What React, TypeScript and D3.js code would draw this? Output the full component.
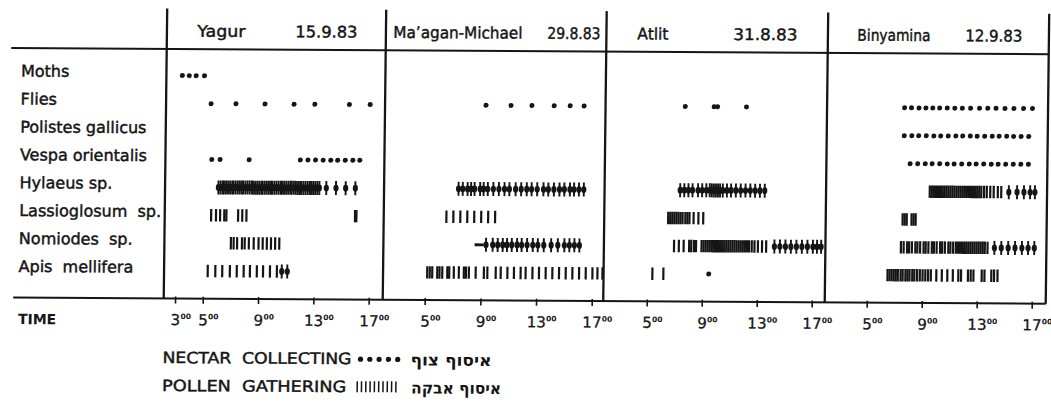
import React from 'react';
import * as d3 from 'd3';

// ---------- data ----------
const sites = ['Yagur', 'Ma\u2019agan-Michael', 'Atlit', 'Binyamina'];
const dates = ['15.9.83', '29.8.83', '31.8.83', '12.9.83'];
const taxa = [
  'Moths',
  'Flies',
  'Polistes gallicus',
  'Vespa orientalis',
  'Hylaeus sp.',
  'Lassioglosum  sp.',
  'Nomiodes  sp.',
  'Apis  mellifera',
];
const panelHourTicks = [
  [3, 5, 9, 13, 17],
  [5, 9, 13, 17],
  [5, 9, 13, 17],
  [5, 9, 13, 17],
];

// N = nectar collecting, P = pollen gathering, B = both, D = dash (range)
type Kind = 'N' | 'P' | 'B' | 'D';
type Row = [string, Kind, number[]];

const yagurMarks: Row[] = [
  ['Moths', 'N', [3.3, 3.8, 4.3, 4.9]],
  ['Flies', 'N', [5.4, 7.2, 9.3, 11.4, 12.9, 15.4, 16.9]],
  ['Vespa orientalis', 'N', [5.5, 6.1, 8.2, 11.9, 12.45, 13.0, 13.55, 14.1, 14.6, 15.15, 15.7, 16.2]],
  ['Hylaeus sp.', 'B', [6.0, 6.15, 6.3, 6.4, 6.55, 6.7, 6.85, 7.0, 7.1, 7.25, 7.4, 7.55, 7.7, 7.8, 7.95, 8.1, 8.25, 8.4, 8.5, 8.65, 8.8, 8.95, 9.1, 9.2, 9.35, 9.5, 9.65, 9.8, 9.9, 10.05, 10.2, 10.35, 10.5, 10.6, 10.75, 10.9, 11.05, 11.2, 11.3, 11.45, 11.6, 11.75, 11.9, 12.0, 12.15, 12.3, 12.45, 12.6, 12.7, 12.85, 13.0, 13.15, 13.3, 13.8, 14.5, 15.2, 15.9]],
  ['Lassioglosum  sp.', 'P', [5.5, 5.85, 6.15, 6.45, 6.6, 7.45, 7.75, 8.05, 15.9, 16.0]],
  ['Nomiodes  sp.', 'P', [6.95, 7.15, 7.4, 7.75, 7.95, 8.25, 8.6, 8.95, 9.25, 9.55, 9.85, 10.15, 10.45]],
  ['Apis  mellifera', 'P', [5.3, 5.85, 6.35, 6.9, 7.4, 7.9, 8.35, 8.85, 9.3, 9.8, 10.3]],
  ['Apis  mellifera', 'B', [10.65, 11.05]],
];

const maaganMarks: Row[] = [
  ['Flies', 'N', [9.2, 11.0, 12.5, 14.1, 15.25, 16.25]],
  ['Hylaeus sp.', 'B', [7.3, 7.6, 7.95, 8.2, 8.45, 8.85, 9.1, 9.4, 9.8, 10.2, 10.6, 10.95, 11.4, 11.8, 12.2, 12.55, 12.95, 13.4, 13.75, 14.15, 14.55, 14.9, 15.3, 15.6, 15.95, 16.3]],
  ['Lassioglosum  sp.', 'P', [6.45, 6.95, 7.45, 7.95, 8.45, 8.95, 9.45, 9.95]],
  ['Nomiodes  sp.', 'D', [8.5, 9.15]],
  ['Nomiodes  sp.', 'B', [9.32, 9.8, 10.16, 10.52, 10.83, 11.17, 11.55, 11.88, 12.27, 12.68, 13.04, 13.47, 14.0, 14.48, 14.95, 15.31, 15.67, 16.03]],
  ['Apis  mellifera', 'P', [5.12, 5.3, 5.48, 5.84, 6.0, 6.2, 6.56, 6.7, 7.03, 7.39, 7.75, 7.9, 8.11, 8.6, 9.19, 9.44, 10.04, 10.4, 10.88, 11.35, 11.83, 12.19, 12.68, 13.15, 13.63, 14.11, 14.59, 15.07, 15.55, 16.03, 16.51, 16.99, 17.35, 17.71]],
];

const atlitMarks: Row[] = [
  ['Flies', 'N', [7.6, 9.7, 9.95, 12.05]],
  ['Hylaeus sp.', 'B', [7.3, 7.6, 7.9, 8.2, 8.6, 8.9, 9.2, 9.45, 9.6, 9.75, 9.9, 10.05, 10.2, 10.4, 10.7, 11.0, 11.35, 11.7, 12.05, 12.4, 12.75, 13.1, 13.45]],
  ['Lassioglosum  sp.', 'P', [6.45, 6.6, 6.75, 6.9, 7.05, 7.2, 7.35, 7.5, 7.7, 7.85, 8.0, 8.3, 8.65, 9.0]],
  ['Nomiodes  sp.', 'P', [6.9, 7.25, 7.6, 8.0, 8.15, 8.35, 8.5, 8.9, 9.05, 9.2, 9.35, 9.5, 9.65, 9.8, 9.95, 10.1, 10.25, 10.4, 10.55, 10.7, 10.85, 11.0, 11.15, 11.3, 11.45, 11.6, 11.75, 11.9, 12.05, 12.2, 12.35, 12.55, 12.75, 13.0, 13.3, 13.6]],
  ['Nomiodes  sp.', 'B', [14.2, 14.6, 15.0, 15.4, 15.8, 16.2, 16.6, 17.0, 17.3, 17.6]],
  ['Apis  mellifera', 'P', [5.35, 6.15]],
  ['Apis  mellifera', 'N', [9.45]],
];

const binyaminaMarks: Row[] = [
  ['Flies', 'N', [7.55, 8.05, 8.6, 9.1, 9.6, 10.1, 10.65, 11.2, 11.75, 12.35, 13.0, 13.6, 14.2, 14.85, 15.5, 16.2, 16.85]],
  ['Polistes gallicus', 'N', [7.55, 8.1, 8.6, 9.15, 9.7, 10.2, 10.75, 11.3, 11.8, 12.35, 12.85, 13.4, 13.95, 14.45, 15.0, 15.5, 16.05, 16.6]],
  ['Vespa orientalis', 'N', [8.0, 8.55, 9.1, 9.6, 10.15, 10.7, 11.2, 11.75, 12.3, 12.8, 13.35, 13.9, 14.4, 14.95, 15.5, 16.05, 16.6]],
  ['Hylaeus sp.', 'P', [9.45, 9.6, 9.75, 9.9, 10.05, 10.2, 10.35, 10.5, 10.65, 10.8, 10.95, 11.1, 11.25, 11.4, 11.55, 11.7, 11.85, 12.0, 12.15, 12.3, 12.45, 12.6, 12.75, 12.9, 13.05, 13.2, 13.4, 13.6, 13.85, 14.1, 14.4, 14.65]],
  ['Hylaeus sp.', 'B', [15.2, 15.8, 16.3, 16.75, 17.1]],
  ['Lassioglosum  sp.', 'P', [7.5, 7.65, 7.8, 8.15, 8.3, 8.45]],
  ['Nomiodes  sp.', 'P', [7.4, 7.6, 7.85, 8.0, 8.2, 8.45, 8.6, 8.8, 9.05, 9.2, 9.4, 9.65, 9.8, 10.0, 10.25, 10.4, 10.6, 10.85, 11.0, 11.2, 11.4, 11.55, 11.7, 11.85, 12.0, 12.15, 12.3, 12.45, 12.6, 12.75, 12.9, 13.05, 13.2, 13.35, 13.5, 13.7]],
  ['Nomiodes  sp.', 'B', [14.2, 14.7, 15.2, 15.7, 16.2, 16.65, 17.1]],
  ['Apis  mellifera', 'P', [6.45, 6.6, 6.75, 6.9, 7.05, 7.2, 7.4, 7.55, 7.75, 7.9, 8.05, 8.25, 8.4, 8.6, 8.8, 9.0, 9.2, 9.4, 9.6, 10.0, 10.4, 10.8, 11.2, 11.6, 11.8, 12.3, 12.5, 12.7, 13.3, 13.5, 14.0, 14.2, 14.45]],
];

const panelMarks = [yagurMarks, maaganMarks, atlitMarks, binyaminaMarks];

const legendLabels = ['NECTAR  COLLECTING', 'POLLEN  GATHERING'];
const legendHebrew = ['איסוף צוף', 'איסוף אבקה'];

// ---------- layout ----------
const W = 1051;
const H = 405;
const INK = '#151515';
const FONT = '"DejaVu Sans", "Liberation Sans", sans-serif';
const panelEdges = [165.5, 384.5, 605, 826.5, 1047.5];
const hour5x = [205, 427, 649, 869];
const hour17x = [371, 594, 814, 1034];
const topY = 7.5;
const headerY = 48;
const baseY = 297.5;
const rowTop = 74.5;
const rowBottom = 269.8;
const headerBaseline = 35.5;
const headerLayout = [
  { siteX: 196, siteW: 48, dateX: 294, dateW: 62 },
  { siteX: 392, siteW: 129, dateX: 546, dateW: 53 },
  { siteX: 636, siteW: 31, dateX: 732, dateW: 64 },
  { siteX: 856, siteW: 73, dateX: 964, dateW: 57 },
];
const tickBaseline = 324;
const legendX = 165;
const legendBaselines = [362, 390];
const legendTextW = [189, 184];
const legendSymX = 360;
const hebrewX = [413, 414];
const hebrewW = [81, 90];
const TEXT_STROKE = 0.45;

function Mark({ kind, x, y }: { kind: Kind; x: number; y: number }) {
  if (kind === 'N') return <circle cx={x} cy={y} r={2.5} fill={INK} />;
  if (kind === 'P')
    return <line x1={x} x2={x} y1={y - 6.2} y2={y + 6.2} stroke={INK} strokeWidth={2.2} />;
  return (
    <g>
      <line x1={x} x2={x} y1={y - 7} y2={y + 7} stroke={INK} strokeWidth={1.9} />
      <ellipse cx={x} cy={y} rx={2.6} ry={3.4} fill={INK} />
    </g>
  );
}

export default function App() {
  const yRow = d3.scalePoint<string>().domain(taxa).range([rowTop, rowBottom]);
  const xScales = sites.map((_, i) =>
    d3.scaleLinear().domain([5, 17]).range([hour5x[i], hour17x[i]])
  );

  return (
    <svg
      width={W}
      height={H}
      viewBox={`0 0 ${W} ${H}`}
      style={{ position: 'absolute', left: 0, top: 0, background: '#fff' }}
      fontFamily={FONT}
    >
      <rect x={0} y={0} width={W} height={H} fill="#fff" />
      <g transform="matrix(1,0.006,-0.012,1,1.8,0)">
        {/* frame */}
        <line x1={10} x2={panelEdges[4]} y1={headerY} y2={headerY} stroke={INK} strokeWidth={2} />
        <line x1={15} x2={panelEdges[4]} y1={baseY} y2={baseY} stroke={INK} strokeWidth={2} />
        {panelEdges.map((x, i) => (
          <line key={i} x1={x} x2={x} y1={topY} y2={baseY} stroke={INK} strokeWidth={2.3} />
        ))}

        {/* headers */}
        {sites.map((s, i) => (
          <g key={s} fontSize={16} fill={INK} stroke={INK} strokeWidth={TEXT_STROKE}>
            <text
              x={headerLayout[i].siteX}
              y={headerBaseline}
              textLength={headerLayout[i].siteW}
              lengthAdjust="spacingAndGlyphs"
            >
              {s}
            </text>
            <text
              x={headerLayout[i].dateX}
              y={headerBaseline}
              textLength={headerLayout[i].dateW}
              lengthAdjust="spacingAndGlyphs"
            >
              {dates[i]}
            </text>
          </g>
        ))}

        {/* row labels */}
        {taxa.map((t) => (
          <text
            key={t}
            x={20}
            y={(yRow(t) as number) + 2}
            fontSize={16}
            fill={INK}
            stroke={INK}
            strokeWidth={TEXT_STROKE}
            style={{ whiteSpace: 'pre' }}
          >
            {t}
          </text>
        ))}

        {/* marks */}
        {panelMarks.map((rows, pi) => (
          <g key={pi}>
            {rows.map(([taxon, kind, hours], ri) => {
              const y = yRow(taxon) as number;
              const xs = xScales[pi];
              if (kind === 'D') {
                return (
                  <line
                    key={ri}
                    x1={xs(hours[0])}
                    x2={xs(hours[1])}
                    y1={y}
                    y2={y}
                    stroke={INK}
                    strokeWidth={2.8}
                  />
                );
              }
              return (
                <g key={ri}>
                  {hours.map((h, k) => (
                    <Mark key={k} kind={kind} x={xs(h)} y={y} />
                  ))}
                </g>
              );
            })}
          </g>
        ))}

        {/* time axis */}
        <text x={20} y={tickBaseline} fontSize={14} fontWeight="bold" fill={INK}>
          TIME
        </text>
        {panelHourTicks.map((ticks, pi) =>
          ticks.map((h) => {
            const x = xScales[pi](h);
            const label = String(h);
            const half = label.length * 4.6;
            return (
              <g key={`${pi}-${h}`} fill={INK}>
                <line x1={x} x2={x} y1={baseY - 2} y2={baseY + 5} stroke={INK} strokeWidth={1.6} />
                <text
                  x={x}
                  y={tickBaseline}
                  fontSize={15}
                  textAnchor="middle"
                  stroke={INK}
                  strokeWidth={0.3}
                >
                  {label}
                </text>
                <text x={x + half + 0.5} y={tickBaseline - 6} fontSize={7.5} fontWeight="bold">
                  00
                </text>
              </g>
            );
          })
        )}

        {/* legend */}
        {legendLabels.map((lab, i) => {
          const by = legendBaselines[i];
          return (
            <g key={lab} fill={INK}>
              <text
                x={legendX}
                y={by}
                fontSize={15.5}
                textLength={legendTextW[i]}
                lengthAdjust="spacingAndGlyphs"
                stroke={INK}
                strokeWidth={TEXT_STROKE}
                style={{ whiteSpace: 'pre' }}
              >
                {lab}
              </text>
              {i === 0
                ? [0, 1, 2, 3, 4].map((k) => (
                    <circle key={k} cx={legendSymX + 3 + k * 9.3} cy={by - 5} r={2.6} fill={INK} />
                  ))
                : [0, 1, 2, 3, 4, 5, 6, 7, 8, 9].map((k) => (
                    <line
                      key={k}
                      x1={legendSymX + k * 4.3}
                      x2={legendSymX + k * 4.3}
                      y1={by - 11}
                      y2={by}
                      stroke={INK}
                      strokeWidth={1.5}
                    />
                  ))}
              <text
                x={hebrewX[i]}
                y={by + 1}
                fontSize={16}
                fontWeight="bold"
                textLength={hebrewW[i]}
                lengthAdjust="spacingAndGlyphs"
              >
                {legendHebrew[i]}
              </text>
            </g>
          );
        })}
      </g>
    </svg>
  );
}
